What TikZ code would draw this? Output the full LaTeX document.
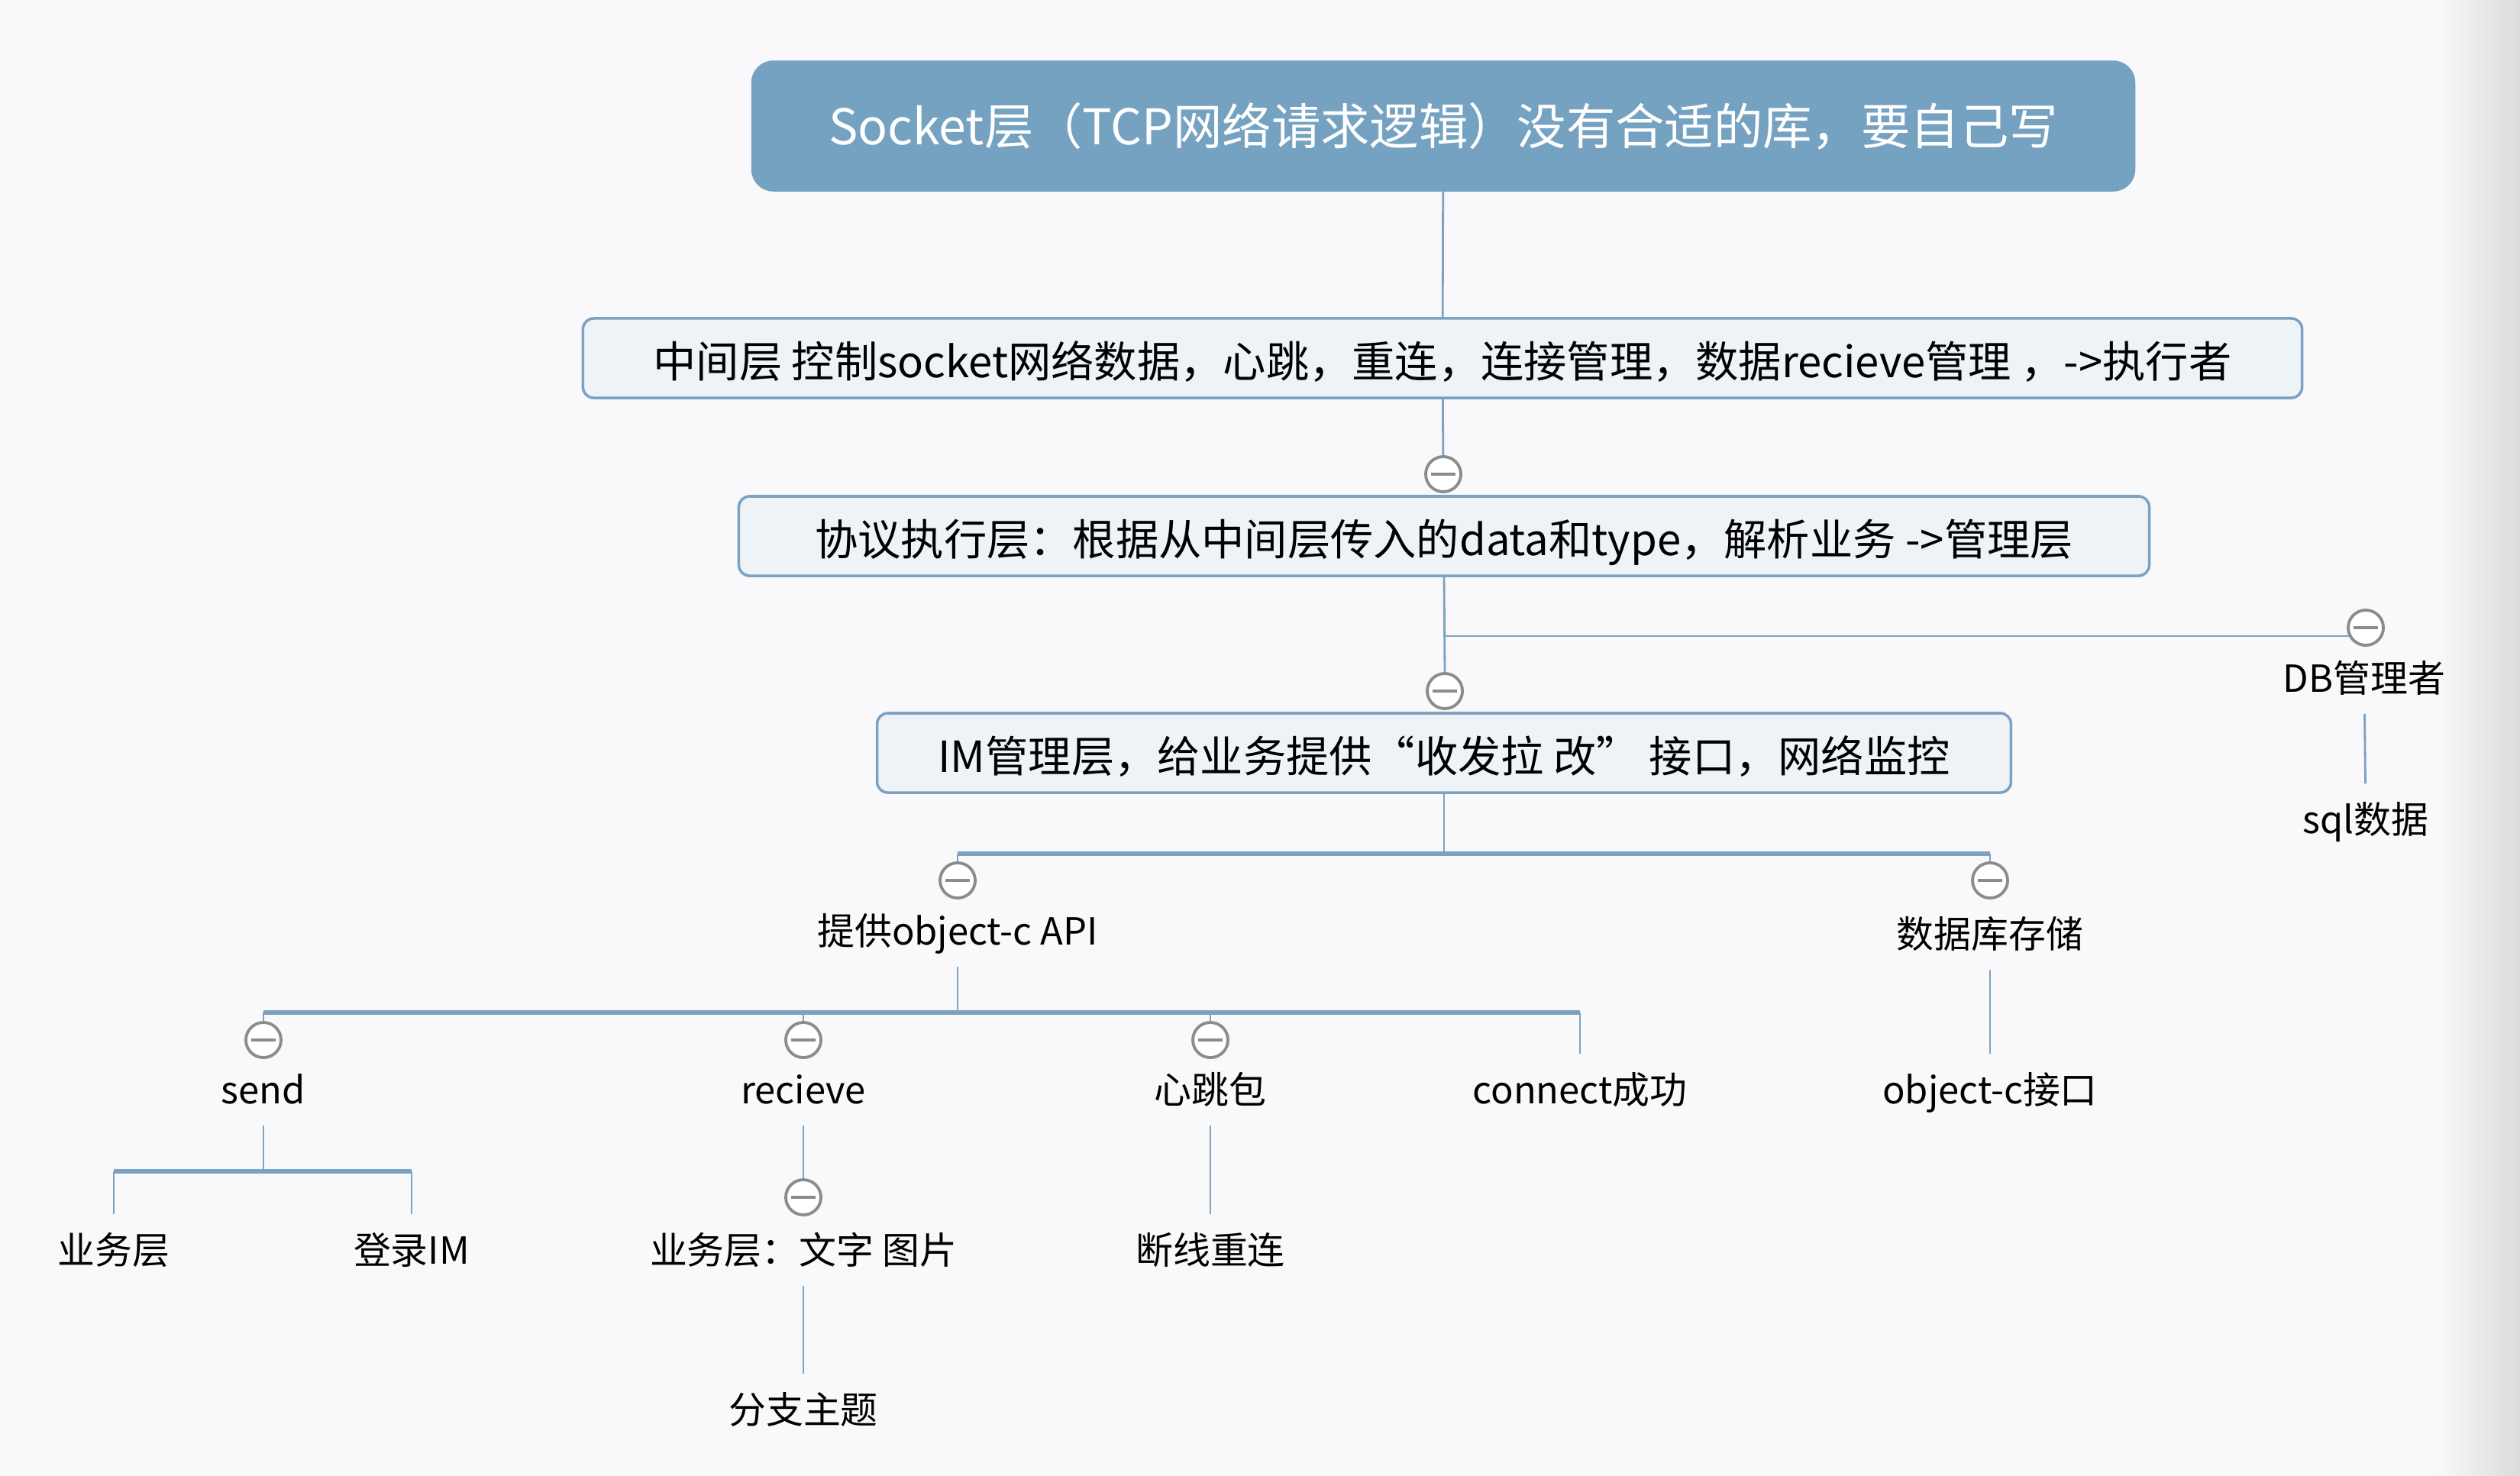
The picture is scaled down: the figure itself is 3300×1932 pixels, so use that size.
\documentclass[tikz,border=0pt]{standalone}
\usepackage{fontspec}
\setmainfont{Noto Sans CJK SC}
\usepackage{tikz}
\usetikzlibrary{calc}
\definecolor{steel}{HTML}{76A2C2}
\definecolor{linkblue}{HTML}{7DA2C1}
\definecolor{layerfill}{HTML}{EEF3F7}
\definecolor{bgpaper}{HTML}{F9F9FB}
\definecolor{knob}{HTML}{8C8C8C}

\begin{document}
\begin{tikzpicture}[
  x=0.01cm, y=-0.01cm,
  rootbox/.style={draw=steel, fill=steel, text=white, rounded corners=8pt,
    minimum width=18.1cm, minimum height=1.7cm, inner sep=0pt,
    font=\fontsize{18.3}{20}\selectfont},
  layerbox/.style={draw=linkblue, fill=layerfill, line width=1pt,
    rounded corners=4pt, minimum height=1.04cm, inner sep=0pt,
    text height=0.6cm, text depth=0.1cm,
    font=\fontsize{16}{18}\selectfont},
  leaf/.style={inner xsep=2pt, inner ysep=0.22cm, text height=0.42cm,
    text depth=0.06cm, font=\fontsize{13.9}{16}\selectfont},
  toggle/.style={circle, draw=knob, line width=1.1pt, fill=white,
    minimum size=0.46cm, inner sep=0pt,
    path picture={\draw[knob, line width=1.1pt]
      ([xshift=-0.16cm]path picture bounding box.center) --
      ([xshift=0.16cm]path picture bounding box.center);}},
  link/.style={draw=linkblue, line width=0.8pt},
  bar/.style={draw=linkblue, line width=1.6pt}
]
\useasboundingbox (0,0) rectangle (3300,1932);
\fill[bgpaper] (0,0) rectangle (3300,1932);
\shade[left color=bgpaper, right color=black!14] (3190,0) rectangle (3300,1932);
% layers
\node[rootbox] (root) at (1890,165)
  {Socket层（TCP网络请求逻辑）没有合适的库，要自己写};
\node[layerbox, minimum width=22.5cm] (mid) at (1889,469)
  {中间层 控制socket网络数据，心跳，重连，连接管理，数据recieve管理 ，->执行者};
\node[toggle] (midtog) at (1890,621) {};
\node[layerbox, minimum width=18.46cm] (proto) at (1891,702)
  {协议执行层：根据从中间层传入的data和type，解析业务 ->管理层};
\node[toggle] (imtog) at (1892,905) {};
\node[layerbox, minimum width=14.84cm] (im) at (1891,986)
  {IM管理层，给业务提供“收发拉 改” 接口，网络监控};
\draw[link] (root) -- (mid);
\draw[link] (mid) -- (midtog);
\draw[link] (proto.south) -- (imtog.north);
% DB branch
\node[toggle] (dbtog) at (3098,822) {};
\node[leaf] (db) at (3096,888) {DB管理者};
\node[leaf] (sql) at (3098,1073) {sql数据};
\draw[link] (proto.south) |- (dbtog.206);
\draw[link] (db) -- (sql);
% IM children
\coordinate (imbar) at (0,1118);
\node[toggle] (apitog) at (1254,1153) {};
\node[leaf] (api) at (1254,1219) {提供object-c API};
\node[toggle] (dbstog) at (2606,1153) {};
\node[leaf] (dbstore) at (2606,1223) {数据库存储};
\draw[link] (im.south) -- (im.south |- imbar);
\draw[bar] (apitog |- imbar) -- (dbstog |- imbar);
\draw[link] (apitog |- imbar) -- (apitog.north);
\draw[link] (dbstog |- imbar) -- (dbstog.north);
\node[leaf] (objc) at (2606,1427) {object-c接口};
\draw[link] (dbstore) -- (objc);
% API children
\coordinate (apibar) at (0,1326);
\node[toggle] (sendtog) at (345,1362) {};
\node[leaf] (send) at (345,1427) {send};
\node[toggle] (recvtog) at (1052,1362) {};
\node[leaf] (recv) at (1052,1427) {recieve};
\node[toggle] (beattog) at (1585,1362) {};
\node[leaf] (beat) at (1585,1427) {心跳包};
\node[leaf] (connect) at (2069,1427) {connect成功};
\draw[link] (api.south) -- (api.south |- apibar);
\draw[bar] (sendtog |- apibar) -- (connect |- apibar);
\foreach \kid in {sendtog, recvtog, beattog}
  \draw[link] (\kid |- apibar) -- (\kid.north);
\draw[link] (connect |- apibar) -- (connect.north);
% send children
\coordinate (sendbar) at (0,1534);
\node[leaf] (biz) at (149,1637) {业务层};
\node[leaf] (login) at (539,1637) {登录IM};
\draw[link] (send.south) -- (send.south |- sendbar);
\draw[bar] (biz |- sendbar) -- (login |- sendbar);
\draw[link] (biz |- sendbar) -- (biz.north);
\draw[link] (login |- sendbar) -- (login.north);
% recieve children
\node[toggle] (recvbiztog) at (1052,1568) {};
\node[leaf] (recvbiz) at (1052,1637) {业务层：文字 图片};
\node[leaf] (branch) at (1052,1846) {分支主题};
\draw[link] (recv) -- (recvbiztog);
\draw[link] (recvbiz) -- (branch);
% heartbeat child
\node[leaf] (reconnect) at (1585,1637) {断线重连};
\draw[link] (beat) -- (reconnect);
\end{tikzpicture}
\end{document}
